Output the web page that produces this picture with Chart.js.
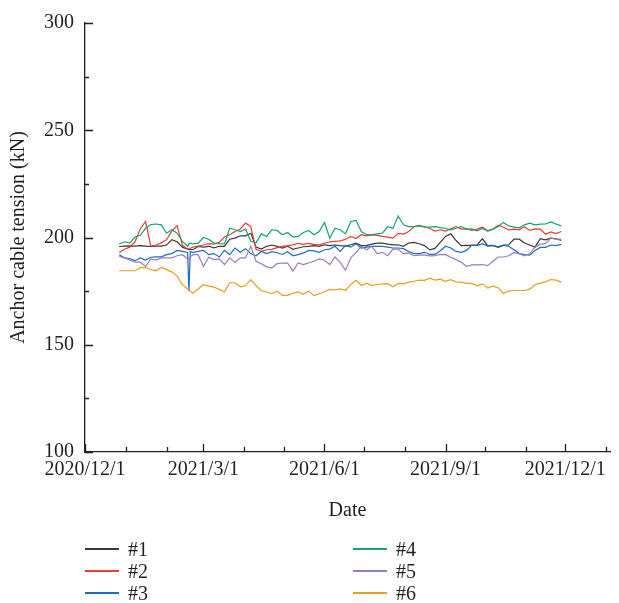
<!DOCTYPE html>
<html>
<head>
<meta charset="utf-8">
<script src="https://cdn.jsdelivr.net/npm/chart.js@4.4.1/dist/chart.umd.min.js"></script>
<style>
  body { margin: 0; background: #fff; }
  #wrap { position: relative; width: 619px; height: 603px; }
  #c { position: absolute; left: 0; top: 0; }
  #legend { position: absolute; left: 0; top: 0; width: 619px; height: 603px; pointer-events: none;
            font-family: "Liberation Serif", serif; font-size: 20px; color: #231f20; }
  .item { position: absolute; height: 22px; line-height: 22px; white-space: nowrap; }
  .item .ln { position: absolute; left: 0; top: 10px; width: 34px; height: 2px; }
  .item .tx { position: absolute; left: 43px; top: 0; }
</style>
</head>
<body>
<div id="wrap">
  <canvas id="c" width="619" height="603"></canvas>
  <div id="legend"></div>
</div>
<script>
// days since 2020/12/1
var days = [26,30,34,38,42,46,50,54,58,62,66,70,74,78,79,80,82,86,90,94,98,102,106,110,114,118,122,126,130,134,138,142,146,150,154,158,162,166,170,174,178,182,186,190,194,198,202,206,210,214,218,222,226,230,234,238,242,246,250,254,258,262,266,270,274,278,282,286,290,294,298,302,306,310,314,318,322,326,330,334,338,342,346,350,354,358,362];

var anchor1 = [195.8,196,196.1,196,196.2,196,195.8,196,196,196.5,199,198,195.5,194.5,194.3,194.5,194.3,195.8,195.5,
  195.9,195.2,195.9,195.9,199.2,199.7,200.8,200.8,202,195.5,194.6,195.9,196.5,195.9,195.1,195.9,
  194.5,195.1,195.7,195.9,196.2,195.9,196.6,196.2,196.5,196.2,196,196.6,197.4,196.2,196.2,196.9,197.4,197.4,
  196.9,196.6,196.6,195.9,197.4,197.7,197.1,196.2,194.2,194.9,197.7,200.5,201.7,198.6,196.2,196.3,196.3,
  196.6,199.4,196.2,196.3,195.4,196.3,196.6,199.2,199.2,197.4,196.5,195.5,199.4,198.9,199.7,199.4,198.6];

var anchor2 = [193,194.5,195.5,198,204,207.5,196,196.5,197.5,199,203,205.5,196.5,194.5,195,195,195.5,196,196.5,
  197.1,196.9,197.7,200.2,201.3,202.8,204,206.7,205.1,194.5,193.5,194.3,194.5,195.3,195.9,196.2,
  196.6,197.3,196.8,197.3,196.8,196.6,197.3,198,198.2,198.4,199.2,200.5,199.5,201.3,200.8,201.2,201,200.5,
  200.2,199.7,201.9,201.6,202.8,205,205.7,205,204.2,203,203.6,203,204,205.1,203.9,204,203.3,
  203.9,204.8,203.1,203.9,205.7,204.8,203.6,203.9,203.6,205,203.3,204,203.9,201.5,202.6,201.8,202.8];

var anchor3 = [192,190.5,190.2,189.2,190.5,189.5,190.8,191,191,192,192.5,194,193.5,193,175,193.5,193,193.5,194,
  192,192.5,190.9,194,192,195.1,193.1,194.8,192.5,191.5,193.5,192.5,193.4,192.9,192.1,193.4,
  191.5,192,192.8,194,193.8,193.1,194.3,194.6,195.9,193.5,196.3,195.5,197.1,195.1,195.5,195.9,195.9,195.9,
  195.5,195.1,195.1,194.8,193.5,192.5,192.5,193.1,192.1,192.1,193.8,195.9,195.1,193.5,193.1,194,196.5,
  196.2,197.1,196,196.3,195.7,196.5,195.9,194.3,192.5,192,191.8,194,195.4,195.4,196.5,196.2,196.8];

var anchor4 = [197,198,197.4,200.2,201,204.3,206,206.3,205.9,202,203.6,202,198.2,195.9,197,197.4,197,197.4,200,
  199.2,197.4,197.1,197,204.3,203.6,202.8,203.9,198.2,197.5,201.7,200.5,203.6,203.3,201.3,202.3,
  200.2,200.5,202.3,203.3,201.3,202.8,207,199.7,204.3,203.6,201.7,207.5,208,202.8,201.3,201.3,201.7,202,
  205,204.3,210,205.9,205.1,205.1,205.4,204.8,204.8,205.1,204.6,204.3,203.6,204.3,205.1,203.9,204,
  203.1,204.2,203,203.9,205.1,207,205.4,204.8,204.5,205.9,206.7,205.9,206.2,206.3,207.3,206.3,205.4];

var anchor5 = [191.2,190.5,189.5,188.5,188.5,186.5,190,189.5,190.5,190.5,190.5,191.5,192,190,190,191,192,192,186.5,
  190.8,189.7,190,187.4,190.5,188.4,190.5,190.5,195.9,188.9,187.8,186.3,185.8,187.8,188.1,188.1,
  184.3,188.1,187.4,188.1,188.9,190,189.4,187.4,190.9,188.4,184.7,190.5,193.1,195.9,194.3,195.9,192.5,193.1,
  191.5,194.6,194.6,192.5,192.8,191.5,191.8,191.8,191.4,191.5,192.1,192,190.8,189.7,188.4,186.6,187.2,
  187.2,187.4,186.9,188.9,190.9,190.9,191.5,192.9,192.5,191.5,192.5,195.5,196.9,197.1,199.7,199.2,199.2];

var anchor6 = [184.5,184.5,184.5,184.5,186,186,185,184.5,186,185,184,182,178,176,175.5,175,174,176,178,
  177.3,176.9,175.8,174.6,178.9,178.9,177,177.6,180.4,177.6,175.2,174.6,173.9,175,173,173,
  174,174.6,173.5,175,172.9,173.8,174.7,175.8,175.6,176,175.3,178.1,180,177.6,178.7,177.6,178.1,178.4,
  178.5,177,178.6,178.4,179.2,179.6,180.1,180,181,180.1,180.6,179.6,180.3,179.3,179.2,178.6,178.6,
  177.5,178.4,176.4,177.3,176.6,173.9,175,175.3,175.3,175.3,175.9,178,178.7,179.3,180.4,180.1,179.2];

var names = ['#1', '#2', '#3', '#4', '#5', '#6'];
var series = [anchor1, anchor2, anchor3, anchor4, anchor5, anchor6];
var colors = ['#3a3a3a', '#ea3d32', '#1d6cc6', '#14a46f', '#9b7bc0', '#e3a021'];

var tickDays = [0, 90, 182, 274, 365];
var tickLabels = ['2020/12/1', '2021/3/1', '2021/6/1', '2021/9/1', '2021/12/1'];
var monthDays = [0, 31, 62, 90, 121, 151, 182, 212, 243, 274, 304, 335, 365, 396];
var yTicks = [100, 125, 150, 175, 200, 225, 250, 275, 300];

var ink = '#231f20';
var serif = 'Liberation Serif';

// ticks point into the plot, major ones longer
var innerTicks = {
  id: 'innerTicks',
  afterDraw: function (chart) {
    var ctx = chart.ctx, a = chart.chartArea;
    var xs = chart.scales.x, ys = chart.scales.y;
    ctx.save();
    ctx.strokeStyle = ink;
    ctx.lineWidth = 1.3;
    ctx.beginPath();
    monthDays.forEach(function (d) {
      var px = Math.round(xs.getPixelForValue(d)) + 0.5;
      var len = tickDays.indexOf(d) >= 0 ? 8 : 5;
      ctx.moveTo(px, a.bottom);
      ctx.lineTo(px, a.bottom - len);
    });
    yTicks.forEach(function (v) {
      var py = Math.round(ys.getPixelForValue(v)) + 0.5;
      var len = v % 50 === 0 ? 8 : 4;
      ctx.moveTo(a.left, py);
      ctx.lineTo(a.left + len, py);
    });
    ctx.stroke();
    ctx.restore();
  }
};

var datasets = series.map(function (s, i) {
  return {
    label: names[i],
    data: days.map(function (d, j) { return { x: d, y: s[j] }; }),
    borderColor: colors[i],
    backgroundColor: colors[i],
    borderWidth: 1.2,
    pointRadius: 0,
    fill: false,
    order: names.length - i
  };
});

new Chart(document.getElementById('c'), {
  type: 'line',
  data: { datasets: datasets },
  options: {
    responsive: false,
    animation: false,
    layout: { padding: { left: 0, top: 20, right: 9, bottom: 73 } },
    plugins: { legend: { display: false }, tooltip: { enabled: false } },
    scales: {
      x: {
        type: 'linear',
        min: 0,
        max: 399,
        afterBuildTicks: function (scale) {
          scale.ticks = tickDays.map(function (v) { return { value: v }; });
        },
        afterFit: function (scale) { scale.height = 78; },
        grid: { drawOnChartArea: false, drawTicks: false },
        border: { display: true, color: ink, width: 1.3 },
        ticks: {
          autoSkip: false,
          maxRotation: 0,
          padding: 6,
          color: ink,
          font: { family: serif, size: 20 },
          callback: function (v) {
            var i = tickDays.indexOf(v);
            return i < 0 ? '' : tickLabels[i];
          }
        },
        title: {
          display: true,
          text: 'Date',
          color: ink,
          font: { family: serif, size: 20 },
          padding: { top: 0, bottom: 7 }
        }
      },
      y: {
        min: 100,
        max: 300,
        afterFit: function (scale) { scale.width = 85; },
        grid: { drawOnChartArea: false, drawTicks: false },
        border: { display: true, color: ink, width: 1.3 },
        ticks: {
          stepSize: 50,
          padding: 11,
          color: ink,
          font: { family: serif, size: 20 }
        },
        title: {
          display: true,
          text: 'Anchor cable tension (kN)',
          color: ink,
          font: { family: serif, size: 20 },
          padding: { top: 7, bottom: 0 }
        }
      }
    }
  },
  plugins: [innerTicks]
});

// legend in two columns under the plot
var legend = document.getElementById('legend');
var colX = [85, 353];
var rowY = [538, 560, 582];
names.forEach(function (n, i) {
  var item = document.createElement('div');
  item.className = 'item';
  item.style.left = colX[Math.floor(i / 3)] + 'px';
  item.style.top = rowY[i % 3] + 'px';
  var ln = document.createElement('span');
  ln.className = 'ln';
  ln.style.background = colors[i];
  var tx = document.createElement('span');
  tx.className = 'tx';
  tx.textContent = n;
  item.appendChild(ln);
  item.appendChild(tx);
  legend.appendChild(item);
});
</script>
</body>
</html>
